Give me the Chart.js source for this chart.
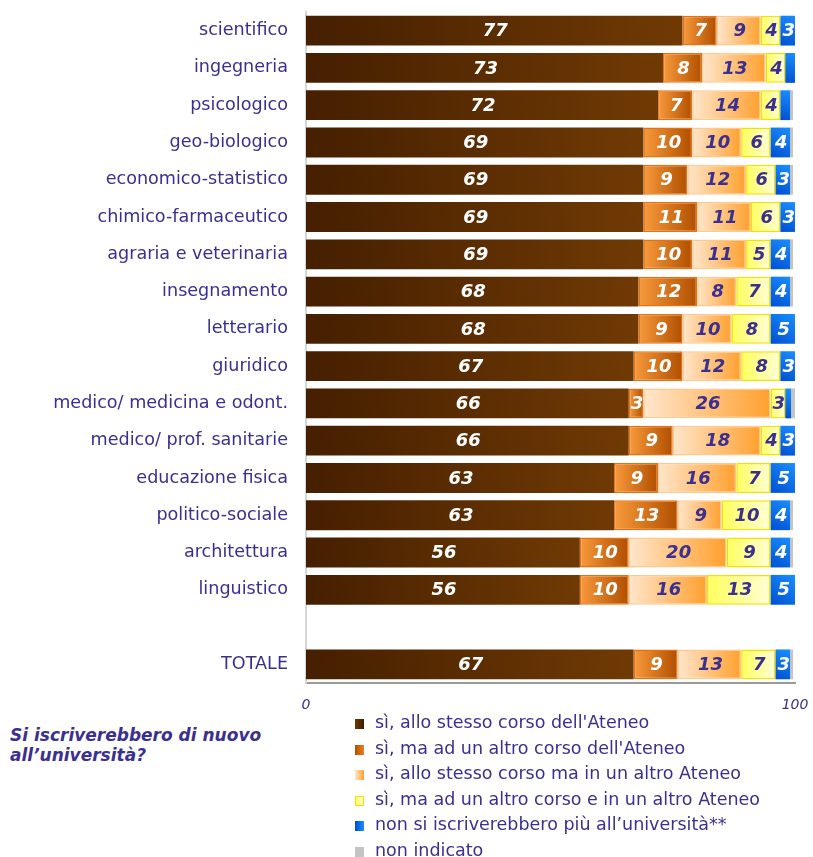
<!DOCTYPE html>
<html>
<head>
<meta charset="utf-8">
<script src="https://cdn.jsdelivr.net/npm/chart.js@4"></script>
<style>
  body { margin: 0; background: #fff; font-family: "DejaVu Sans", Verdana, sans-serif; }
  #wrap { position: relative; width: 813px; height: 857px; }
  #chart { position: absolute; left: 0; top: 0; }
  #question { position: absolute; left: 10px; top: 725px; color: #3b2f8f; font-weight: bold; font-style: italic; font-size: 17px; line-height: 20px; }
  #legend { position: absolute; left: 355px; top: 711px; }
  .item { height: 25.6px; line-height: 22px; color: #3b2f8f; font-size: 17.5px; white-space: nowrap; }
  .box { display: inline-block; width: 9px; height: 10px; margin-right: 11px; vertical-align: -1px; }
</style>
</head>
<body>
<div id="wrap">
  <canvas id="chart" width="813" height="720"></canvas>
  <div id="question">Si iscriverebbero di nuovo<br>all’università?</div>
  <div id="legend"></div>
</div>
<script>
var categories = ["scientifico", "ingegneria", "psicologico", "geo-biologico", "economico-statistico",
    "chimico-farmaceutico", "agraria e veterinaria", "insegnamento", "letterario", "giuridico",
    "medico/ medicina e odont.", "medico/ prof. sanitarie", "educazione fisica", "politico-sociale",
    "architettura", "linguistico", "", "TOTALE"];

var seriesNames = ["sì, allo stesso corso dell'Ateneo", "sì, ma ad un altro corso dell'Ateneo",
    "sì, allo stesso corso ma in un altro Ateneo", "sì, ma ad un altro corso e in un altro Ateneo",
    "non si iscriverebbero più all’università**", "non indicato"];

var stessoCorso     = [77, 73, 72, 69, 69, 69, 69, 68, 68, 67, 66, 66, 63, 63, 56, 56, null, 67];
var altroCorso      = [ 7,  8,  7, 10,  9, 11, 10, 12,  9, 10,  3,  9,  9, 13, 10, 10, null,  9];
var altroAteneo     = [ 9, 13, 14, 10, 12, 11, 11,  8, 10, 12, 26, 18, 16,  9, 20, 16, null, 13];
var corsoEAteneo    = [ 4,  4,  4,  6,  6,  6,  5,  7,  8,  8,  3,  4,  7, 10,  9, 13, null,  7];
var nonIscritti     = [ 3,  2,  2,  4,  3,  3,  4,  4,  5,  3, 1.2, 3,  5,  4,  4,  5, null,  3];
var nonIndicato     = [0.6, 0.6, 0.6, 0.6, 0.6, 0.6, 0.6, 0.6, 0.6, 0.6, 0.8, 0.6, 0.6, 0.6, 0.6, 0.6, null, 0.6];

var xTicks = [0, 100];

var allSeries = [stessoCorso, altroCorso, altroAteneo, corsoEAteneo, nonIscritti, nonIndicato];

// gradient stops per series: [left/bottom, right/top]
var fills = [
    ["#451f00", "#703a04"],
    ["#f89a3c", "#b04f00"],
    ["#ffe6cc", "#ffa02e"],
    ["#ffff5c", "#ffffd6"],
    ["#004fd0", "#1a8eff"],
    ["#c4c4c4", "#c4c4c4"]
];
var borders = ["#5a2d00", "#e8700e", "#ffc88c", "#f2e200", "#0060e8", "#c4c4c4"];
var labelColors = ["#ffffff", "#ffffff", "#3b2f8f", "#3b2f8f", "#ffffff", null];
var purple = "#3b2f8f";

function segFill(ds) {
    return function(c) {
        var chart = c.chart, xs = chart.scales.x, ys = chart.scales.y;
        if (!xs || !ys || c.dataIndex === undefined) return fills[ds][0];
        var start = 0;
        for (var k = 0; k < ds; k++) start += allSeries[k][c.dataIndex] || 0;
        var end = start + (allSeries[ds][c.dataIndex] || 0);
        var x0 = xs.getPixelForValue(start), x1 = xs.getPixelForValue(end);
        var yc = ys.getPixelForValue(c.dataIndex);
        if (!isFinite(x0) || !isFinite(x1) || !isFinite(yc)) return fills[ds][0];
        var g;
        if (ds === 0 || ds === 4) {
            g = chart.ctx.createLinearGradient(x0, yc + 15, x1, yc - 15);
        } else {
            g = chart.ctx.createLinearGradient(x0, yc, x1, yc);
        }
        g.addColorStop(0, fills[ds][0]);
        g.addColorStop(1, fills[ds][1]);
        return g;
    };
}

var valueLabels = {
    id: "valueLabels",
    afterDatasetsDraw: function(chart) {
        var ctx = chart.ctx;
        ctx.save();
        ctx.font = "italic bold 18px 'DejaVu Sans', Verdana, sans-serif";
        ctx.textAlign = "center";
        ctx.textBaseline = "middle";
        for (var d = 0; d < 5; d++) {
            var meta = chart.getDatasetMeta(d);
            meta.data.forEach(function(bar, i) {
                var v = allSeries[d][i];
                if (v === null || v < 3) return;
                ctx.fillStyle = labelColors[d];
                ctx.fillText(String(Math.round(v)), (bar.x + bar.base) / 2 + 1, bar.y + 1);
            });
        }
        ctx.restore();
    }
};

var datasets = allSeries.map(function(arr, d) {
    return {
        label: seriesNames[d],
        data: arr,
        backgroundColor: segFill(d),
        borderColor: borders[d],
        borderWidth: (d === 1 || d === 2 || d === 3) ? 1.5 : 0,
        borderSkipped: false,
        categoryPercentage: 1,
        barPercentage: 0.8
    };
});

function noPad(axis) {
    axis.paddingLeft = 0; axis.paddingRight = 0;
    axis.paddingTop = 0; axis.paddingBottom = 0;
}

new Chart(document.getElementById("chart").getContext("2d"), {
    type: "bar",
    data: { labels: categories, datasets: datasets },
    options: {
        indexAxis: "y",
        responsive: false,
        animation: false,
        layout: { padding: { top: 12, right: 18, left: 0, bottom: 0 } },
        plugins: { legend: { display: false }, tooltip: { enabled: false } },
        scales: {
            x: {
                stacked: true,
                min: 0, max: 100,
                afterBuildTicks: function(axis) { axis.ticks = xTicks.map(function(v) { return { value: v }; }); },
                afterFit: function(axis) { axis.height = 37; noPad(axis); },
                grid: { display: false, drawTicks: false },
                border: { display: true, color: "#9a9a9a", width: 2 },
                ticks: {
                    color: purple, padding: 14,
                    font: { family: "'DejaVu Sans', Verdana, sans-serif", size: 14, style: "italic" }
                }
            },
            y: {
                stacked: true,
                afterFit: function(axis) { axis.width = 306; noPad(axis); },
                grid: { display: false, drawTicks: false },
                border: { display: true, color: "#d6d6d6", width: 2 },
                ticks: {
                    color: purple, padding: 18,
                    font: { family: "'DejaVu Sans', Verdana, sans-serif", size: 17.6 }
                }
            }
        }
    },
    plugins: [valueLabels]
});

// legend below the plot
var legendEl = document.getElementById("legend");
seriesNames.forEach(function(name, d) {
    var row = document.createElement("div");
    row.className = "item";
    var box = document.createElement("span");
    box.className = "box";
    box.style.background = "linear-gradient(to right, " + fills[d][0] + ", " + fills[d][1] + ")";
    if (d === 3) { box.style.boxSizing = "border-box"; box.style.border = "1.5px solid " + borders[3]; }
    if (d === 0) box.style.background = "linear-gradient(to right, #6f3a04, #3a1b00)";
    if (d === 1) box.style.background = "linear-gradient(to right, #b04f00, #f08020)";
    row.appendChild(box);
    row.appendChild(document.createTextNode(name));
    legendEl.appendChild(row);
});
</script>
</body>
</html>
